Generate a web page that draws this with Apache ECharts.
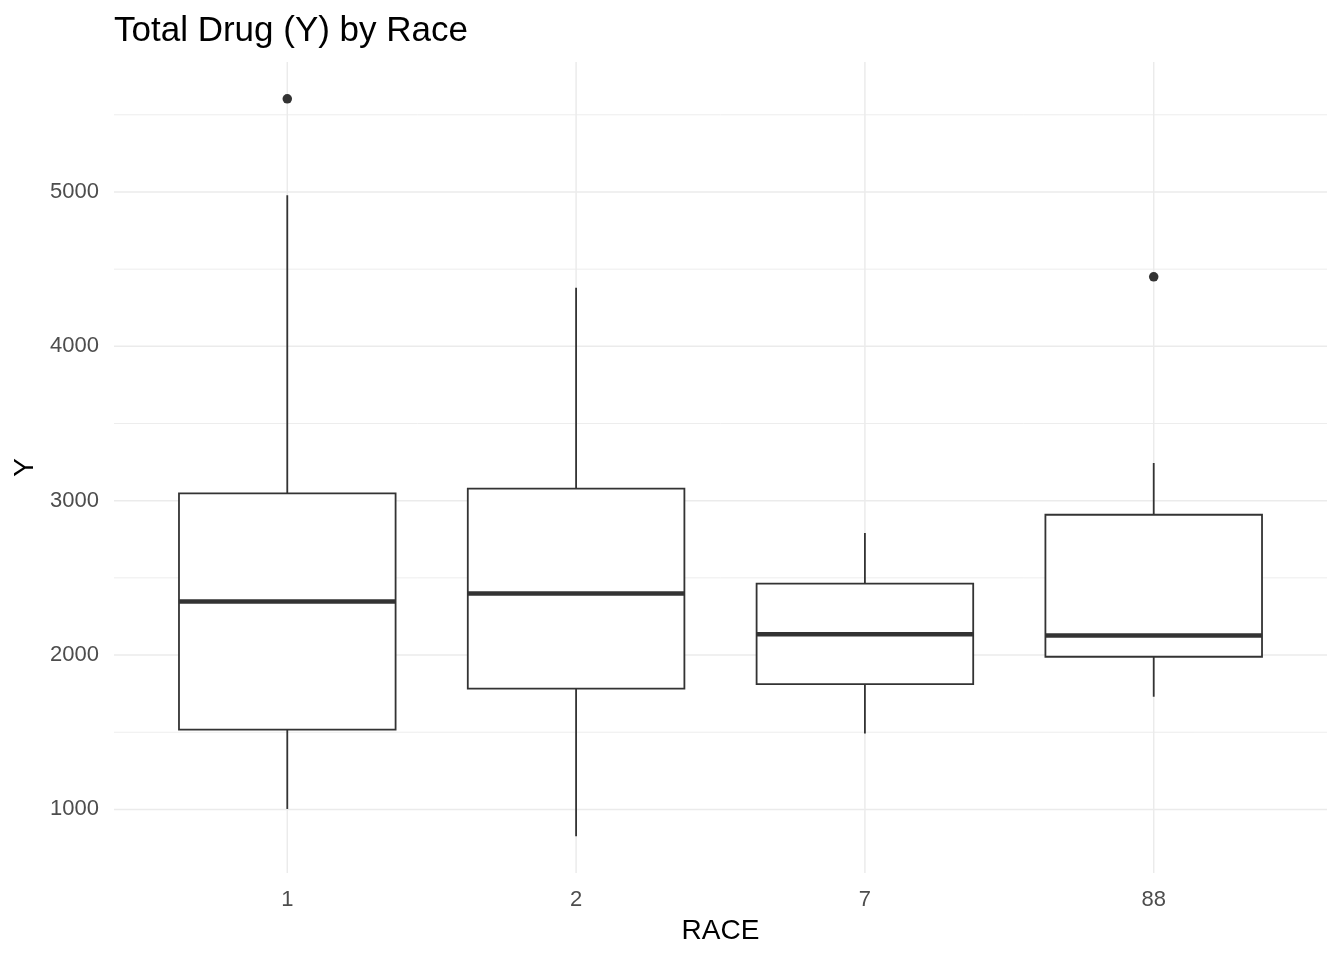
<!DOCTYPE html>
<html>
<head>
<meta charset="utf-8">
<script src="https://cdn.jsdelivr.net/npm/echarts@6/dist/echarts.min.js"></script>
<style>
html,body{margin:0;padding:0;background:#fff;}
#chart{width:1344px;height:960px;}
</style>
</head>
<body>
<div id="chart"></div>
<script>
// ---- data ----
const categories = ['1', '2', '7', '88'];
const lowerWhisker = [1003, 827, 1492, 1730];
const q1 = [1517, 1782, 1812, 1989];
const median = [2347, 2399, 2134, 2127];
const q3 = [3047, 3078, 2463, 2909];
const upperWhisker = [4979, 4379, 2791, 3244];
const outlierRace = ['1', '88'];
const outlierValue = [5603, 4450];
const yMajorTicks = [1000, 2000, 3000, 4000, 5000];
const yMinorTicks = [1500, 2500, 3500, 4500, 5500];

// ---- scale limits (ggplot-like expansion) ----
const allVals = lowerWhisker.concat(upperWhisker, outlierValue);
const dMin = Math.min(...allVals), dMax = Math.max(...allVals);
const Y_MIN = dMin - 0.05 * (dMax - dMin);
const Y_MAX = dMax + 0.05 * (dMax - dMin);
const X_MIN = 0.4, X_MAX = categories.length + 0.6;
const BOX_HALF = 0.375;

const INK = '#333333';
const GRID = '#EBEBEB';
const FONT = '"Liberation Sans", Arial, sans-serif';

const boxData = categories.map((c, i) => [i + 1, lowerWhisker[i], q1[i], median[i], q3[i], upperWhisker[i]]);
const outlierData = outlierRace.map((r, i) => [categories.indexOf(r) + 1, outlierValue[i]]);
const hGridData = yMajorTicks.map(v => [v, 1]).concat(yMinorTicks.map(v => [v, 0]));
const vGridData = categories.map((c, i) => [i + 1]);

const chart = echarts.init(document.getElementById('chart'), null, {renderer: 'canvas'});

const option = {
  animation: false,
  backgroundColor: '#ffffff',
  title: {
    text: 'Total Drug (Y) by Race',
    left: 114,
    top: 14,
    padding: 0,
    textStyle: {fontFamily: FONT, fontSize: 35, fontWeight: 'normal', color: '#000000'}
  },
  grid: {left: 114, right: 17, top: 62, bottom: 87, containLabel: false},
  xAxis: {
    type: 'value',
    min: X_MIN,
    max: X_MAX,
    name: 'RACE',
    nameLocation: 'middle',
    nameGap: 44,
    nameTextStyle: {fontFamily: FONT, fontSize: 28, color: '#000000', verticalAlign: 'top'},
    axisLine: {show: false},
    axisTick: {show: false},
    splitLine: {show: false},
    axisLabel: {
      customValues: categories.map((c, i) => i + 1),
      formatter: v => categories[Math.round(v) - 1] || '',
      fontFamily: FONT, fontSize: 22, color: '#4D4D4D', margin: 16
    }
  },
  yAxis: {
    type: 'value',
    min: Y_MIN,
    max: Y_MAX,
    name: 'Y',
    nameLocation: 'middle',
    nameGap: 66,
    nameRotate: 90,
    nameTextStyle: {fontFamily: FONT, fontSize: 28, color: '#000000'},
    axisLine: {show: false},
    axisTick: {show: false},
    splitLine: {show: false},
    axisLabel: {
      customValues: yMajorTicks,
      formatter: v => String(Math.round(v)),
      fontFamily: FONT, fontSize: 22, color: '#4D4D4D', margin: 15
    }
  },
  series: [
    {
      name: 'hgrid',
      type: 'custom',
      silent: true,
      z: 1,
      data: hGridData,
      encode: {y: 0},
      renderItem: function (params, api) {
        const v = api.value(0);
        const major = api.value(1) === 1;
        const a = api.coord([X_MIN, v]);
        const b = api.coord([X_MAX, v]);
        return {type: 'line', shape: {x1: a[0], y1: a[1], x2: b[0], y2: b[1]},
          style: {stroke: GRID, lineWidth: major ? 1.5 : 0.9}};
      }
    },
    {
      name: 'vgrid',
      type: 'custom',
      silent: true,
      z: 1,
      data: vGridData,
      encode: {x: 0},
      renderItem: function (params, api) {
        const x = api.value(0);
        const a = api.coord([x, Y_MIN]);
        const b = api.coord([x, Y_MAX]);
        return {type: 'line', shape: {x1: a[0], y1: a[1], x2: b[0], y2: b[1]},
          style: {stroke: GRID, lineWidth: 1.5}};
      }
    },
    {
      name: 'box',
      type: 'custom',
      z: 3,
      data: boxData,
      encode: {x: 0, y: [1, 2, 3, 4, 5]},
      renderItem: function (params, api) {
        const x = api.value(0);
        const lo = api.value(1), a1 = api.value(2), md = api.value(3), a3 = api.value(4), hi = api.value(5);
        const pLo = api.coord([x, lo]);
        const pQ1 = api.coord([x, a1]);
        const pQ3 = api.coord([x, a3]);
        const pHi = api.coord([x, hi]);
        const tl = api.coord([x - BOX_HALF, a3]);
        const br = api.coord([x + BOX_HALF, a1]);
        const mL = api.coord([x - BOX_HALF, md]);
        const mR = api.coord([x + BOX_HALF, md]);
        return {
          type: 'group',
          children: [
            {type: 'line', shape: {x1: pLo[0], y1: pLo[1], x2: pQ1[0], y2: pQ1[1]}, style: {stroke: INK, lineWidth: 1.8}},
            {type: 'line', shape: {x1: pQ3[0], y1: pQ3[1], x2: pHi[0], y2: pHi[1]}, style: {stroke: INK, lineWidth: 1.8}},
            {type: 'rect', shape: {x: tl[0], y: tl[1], width: br[0] - tl[0], height: br[1] - tl[1]},
              style: {fill: '#ffffff', stroke: INK, lineWidth: 1.8}},
            {type: 'line', shape: {x1: mL[0], y1: mL[1], x2: mR[0], y2: mR[1]}, style: {stroke: INK, lineWidth: 4.5}}
          ]
        };
      }
    },
    {
      name: 'outliers',
      type: 'scatter',
      z: 4,
      symbol: 'circle',
      symbolSize: 9.5,
      itemStyle: {color: INK, opacity: 1},
      data: outlierData
    }
  ]
};
chart.setOption(option);
</script>
</body>
</html>
